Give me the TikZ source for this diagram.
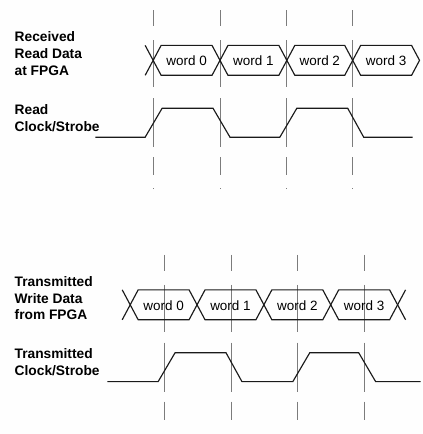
\documentclass[tikz,border=0pt]{standalone}
\usepackage{fontspec}
\setmainfont{Liberation Sans}
\usepackage{tikz}
\usetikzlibrary{positioning, calc}
\usepackage{xcolor}
\definecolor{guidegray}{HTML}{7C7C7C}
\definecolor{wireblack}{HTML}{1A1A1A}
\definecolor{pagebg}{HTML}{FEFEFE}

\begin{document}
\begin{tikzpicture}[
  x=1pt, y=-1pt,
  sig/.style={font=\bfseries\fontsize{13.8}{17}\selectfont, align=left,
    anchor=north west, inner sep=0pt},
  word/.style={font=\fontsize{13.5}{16}\selectfont, inner sep=0pt},
  wave/.style={wireblack, line width=1.15pt, line join=miter},
  guide/.style={guidegray, line width=0.9pt,
    dash pattern=on 16 off 14 on 47 off 11 on 49 off 10 on 18 off 13 on 1.2}
]
  \draw[pagebg, fill=pagebg, line width=1pt] (0,0) rectangle (422,434);
  \useasboundingbox (0,0) rectangle (422,434);

  % --- Read side (received at FPGA) ---
  \node[sig] (rdlbl) at (14,31) {Received\\Read Data\\at FPGA};
  \node[sig] (rclbl) at (14,104) {Read\\Clock/Strobe};

  % Guides
  \foreach \x in {153,220,287,353} {
    \draw[guide] (\x,10) -- (\x,190);
  }
  % Data words (edge aligned)
  \draw[wave] (145,45) -- (153,60) -- (145,75);
  \foreach \a/\b/\n in {153/220/0, 220/287/1, 287/353/2, 353/420/3} {
    \draw[wave] (\a,60) -- (\a+8,45) -- (\b-8,45) -- (\b,60)
      -- (\b-8,75) -- (\a+8,75) -- cycle;
    \node[word] (rw\n) at ({(\a+\b)/2},60.5) {word \n};
  }
  % Clock
  \draw[wave] (95,137) -- (145,137) -- (162,108) -- (213,108) -- (230,137)
    -- (280,137) -- (297,108) -- (348,108) -- (364,137) -- (413,137);

  % --- Write side (transmitted from FPGA) ---
  \node[sig] (wdlbl) at (14,276) {Transmitted\\Write Data\\from FPGA};
  \node[sig] (wclbl) at (14,349) {Transmitted\\Clock/Strobe};

  % Guides
  \foreach \x in {164,231,298,365} {
    \draw[guide] (\x,255) -- (\x,433);
  }
  % Data words (centre aligned)
  \draw[wave] (122,290) -- (130,305) -- (122,320);
  \draw[wave] (406,290) -- (398,305) -- (406,320);
  \foreach \a/\b/\n in {130/197/0, 197/264/1, 264/331/2, 331/398/3} {
    \draw[wave] (\a,305) -- (\a+8,290) -- (\b-8,290) -- (\b,305)
      -- (\b-8,320) -- (\a+8,320) -- cycle;
    \node[word] (ww\n) at ({(\a+\b)/2},305.5) {word \n};
  }
  % Clock
  \draw[wave] (107,382) -- (158,382) -- (175,353) -- (226,353) -- (242,382)
    -- (293,382) -- (310,353) -- (359,353) -- (376,382) -- (421,382);
\end{tikzpicture}
\end{document}
